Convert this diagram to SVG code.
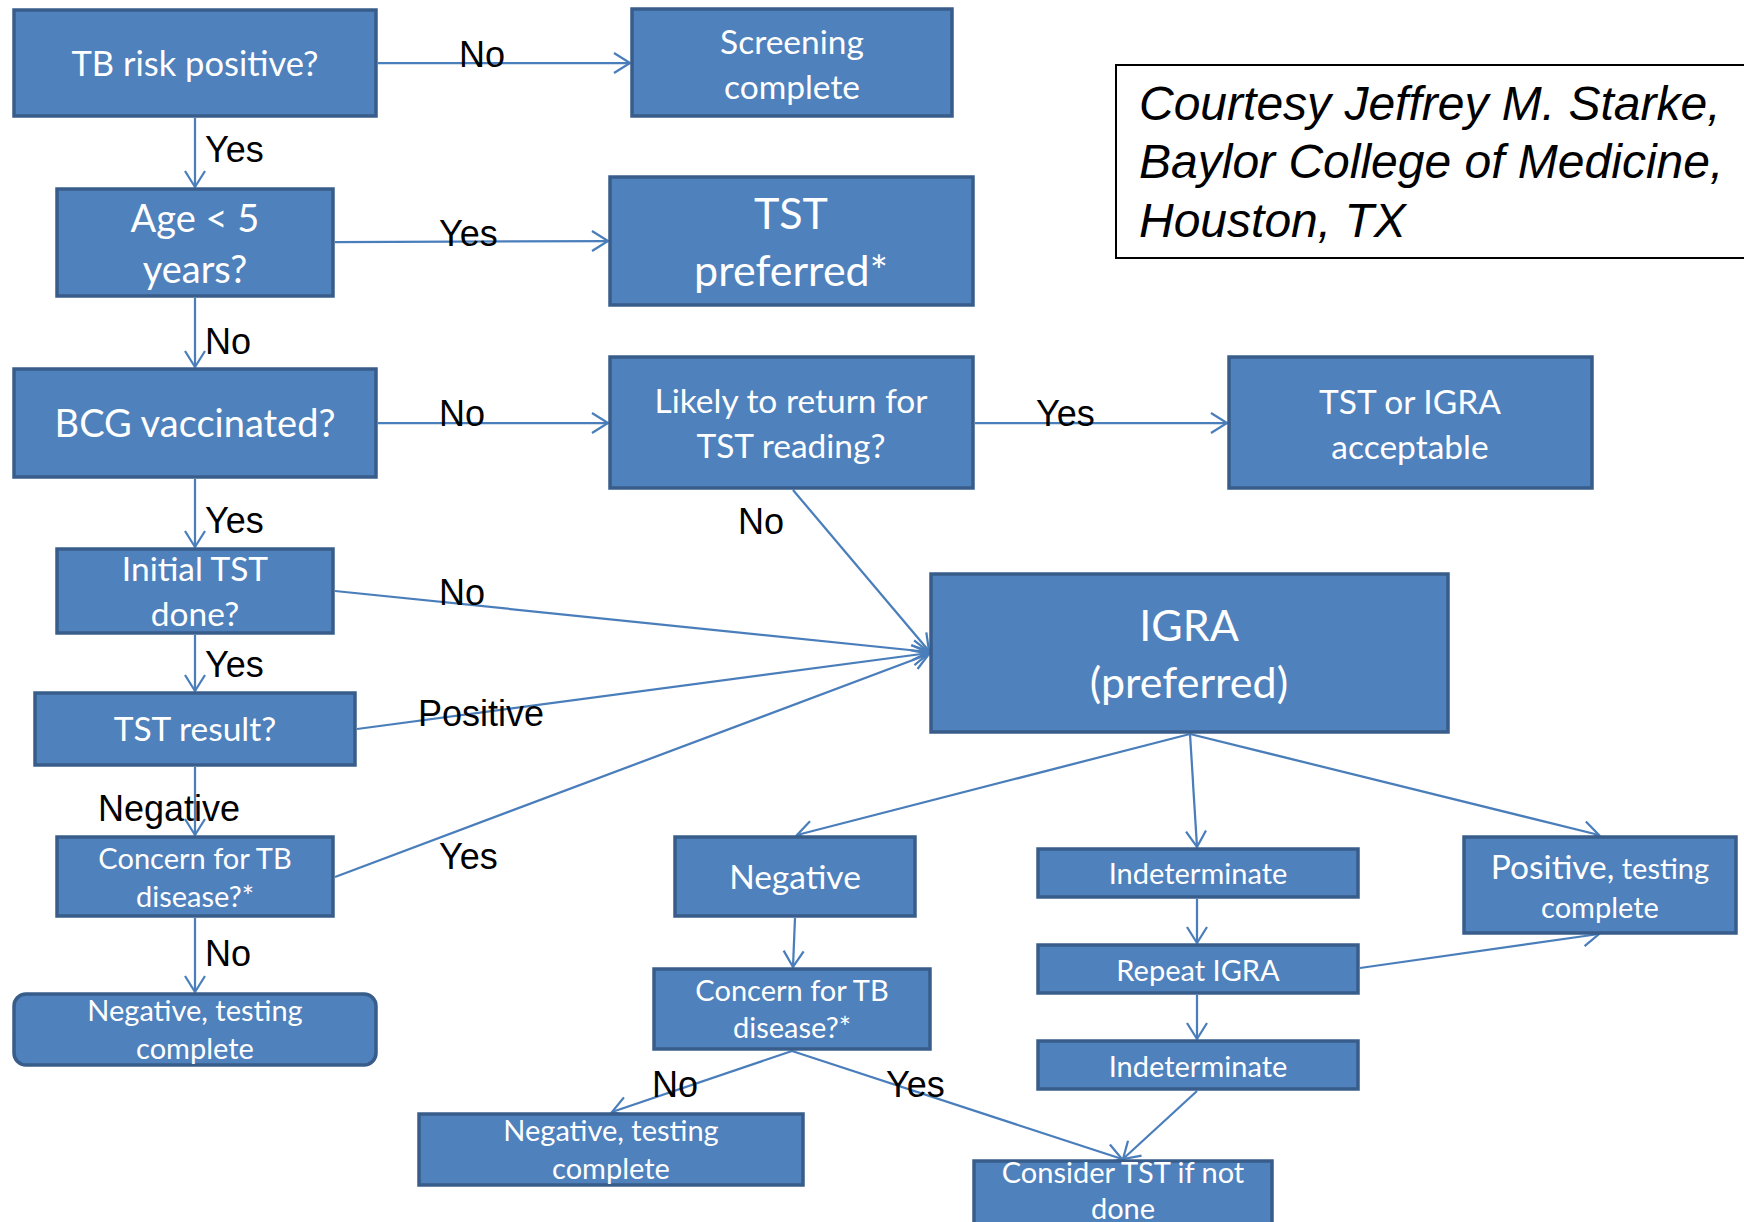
<svg xmlns="http://www.w3.org/2000/svg" width="1744" height="1222" viewBox="0 0 1744 1222">
<style>
.box{fill:#4F81BD;stroke:#385D8A;stroke-width:3.5}
.t{fill:#FFFFFF;font-family:Lato,"Open Sans",sans-serif;text-anchor:middle}
.lbl{fill:#000000;font-family:"Liberation Sans",Arial,sans-serif;font-size:36px}
.c{fill:none;stroke:#4A7EBB;stroke-width:2.25;marker-end:url(#arr)}
.credit{fill:#000000;font-family:"Liberation Sans",Arial,sans-serif;font-style:italic;font-size:48px}
</style>
<defs>
<marker id="arr" markerUnits="userSpaceOnUse" markerWidth="22" markerHeight="26" viewBox="0 -13 22 26" refX="18" refY="0" orient="auto">
<path d="M2,-10 L18,0 L2,10" fill="none" stroke="#4A7EBB" stroke-width="2.25"/>
</marker>
</defs>
<rect width="1744" height="1222" fill="#FFFFFF"/>

<g id="connectors">
<line class="c" x1="378" y1="63" x2="630" y2="63"/>
<line class="c" x1="195" y1="118" x2="195" y2="187"/>
<line class="c" x1="335" y1="242" x2="608" y2="241"/>
<line class="c" x1="195" y1="298" x2="195" y2="367"/>
<line class="c" x1="378" y1="423" x2="608" y2="423"/>
<line class="c" x1="195" y1="479" x2="195" y2="547"/>
<line class="c" x1="975" y1="423" x2="1227" y2="423"/>
<line class="c" x1="793" y1="490" x2="929" y2="651"/>
<line class="c" x1="335" y1="591" x2="929" y2="652"/>
<line class="c" x1="195" y1="635" x2="195" y2="691"/>
<line class="c" x1="357" y1="729" x2="929" y2="653"/>
<line class="c" x1="195" y1="767" x2="195" y2="835"/>
<line class="c" x1="335" y1="877" x2="929" y2="654"/>
<line class="c" x1="195" y1="918" x2="195" y2="992"/>
<line class="c" x1="1190" y1="734" x2="797" y2="835"/>
<line class="c" x1="1190" y1="734" x2="1197" y2="847"/>
<line class="c" x1="1190" y1="734" x2="1599" y2="835"/>
<line class="c" x1="795" y1="918" x2="793" y2="967"/>
<line class="c" x1="792" y1="1051" x2="612" y2="1112"/>
<line class="c" x1="792" y1="1051" x2="1122" y2="1159"/>
<line class="c" x1="1197" y1="899" x2="1197" y2="943"/>
<line class="c" x1="1197" y1="995" x2="1197" y2="1039"/>
<line class="c" x1="1197" y1="1091" x2="1123" y2="1159"/>
<line class="c" x1="1360" y1="968" x2="1599" y2="934"/>
</g>

<g id="edge-labels">
<text class="lbl" x="459" y="67">No</text>
<text class="lbl" x="205" y="162">Yes</text>
<text class="lbl" x="439" y="246">Yes</text>
<text class="lbl" x="205" y="354">No</text>
<text class="lbl" x="439" y="426">No</text>
<text class="lbl" x="205" y="533">Yes</text>
<text class="lbl" x="1036" y="426">Yes</text>
<text class="lbl" x="738" y="534">No</text>
<text class="lbl" x="439" y="605">No</text>
<text class="lbl" x="205" y="677">Yes</text>
<text class="lbl" x="418" y="726">Positive</text>
<text class="lbl" x="98" y="821">Negative</text>
<text class="lbl" x="439" y="869">Yes</text>
<text class="lbl" x="205" y="966">No</text>
<text class="lbl" x="652" y="1097">No</text>
<text class="lbl" x="886" y="1097">Yes</text>
</g>

<g id="n-tbrisk"><rect class="box" x="14" y="10" width="362" height="106"/><text class="t" x="195" y="76" font-size="34.5">TB risk positive?</text></g>
<g id="n-screening"><rect class="box" x="632" y="9" width="320" height="107"/><text class="t" x="792" y="54" font-size="33.5">Screening</text><text class="t" x="792" y="99" font-size="33.5">complete</text></g>
<g id="n-age"><rect class="box" x="57" y="189" width="276" height="107"/><text class="t" x="195" y="232" font-size="38">Age &lt; 5</text><text class="t" x="195" y="283" font-size="38">years?</text></g>
<g id="n-tstpref"><rect class="box" x="610" y="177" width="363" height="128"/><text class="t" x="791" y="229" font-size="43">TST</text><text class="t" x="791" y="286" font-size="43">preferred*</text></g>
<g id="n-bcg"><rect class="box" x="14" y="369" width="362" height="108"/><text class="t" x="195" y="437" font-size="38">BCG vaccinated?</text></g>
<g id="n-likely"><rect class="box" x="610" y="357" width="363" height="131"/><text class="t" x="791" y="413" font-size="33.5">Likely to return for</text><text class="t" x="791" y="458" font-size="33.5">TST reading?</text></g>
<g id="n-tstorigra"><rect class="box" x="1229" y="357" width="363" height="131"/><text class="t" x="1410" y="414" font-size="33.5">TST or IGRA</text><text class="t" x="1410" y="459" font-size="33.5">acceptable</text></g>
<g id="n-credit"><rect x="1116" y="65" width="660" height="193" fill="#FFFFFF" stroke="#000000" stroke-width="2"/><text class="credit" x="1139" y="120">Courtesy Jeffrey M. Starke,</text><text class="credit" x="1139" y="178">Baylor College of Medicine,</text><text class="credit" x="1139" y="237">Houston, TX</text></g>
<g id="n-initial"><rect class="box" x="57" y="549" width="276" height="84"/><text class="t" x="195" y="581" font-size="33.5">Initial TST</text><text class="t" x="195" y="626" font-size="33.5">done?</text></g>
<g id="n-igra"><rect class="box" x="931" y="574" width="517" height="158"/><text class="t" x="1189" y="641" font-size="43">IGRA</text><text class="t" x="1189" y="698" font-size="43">(preferred)</text></g>
<g id="n-tstresult"><rect class="box" x="35" y="693" width="320" height="72"/><text class="t" x="195" y="741" font-size="33.5">TST result?</text></g>
<g id="n-concern1"><rect class="box" x="57" y="837" width="276" height="79"/><text class="t" x="195" y="869" font-size="29">Concern for TB</text><text class="t" x="195" y="907" font-size="29">disease?*</text></g>
<g id="n-neg1"><rect class="box" x="14" y="994" width="362" height="71" rx="12"/><text class="t" x="195" y="1021" font-size="29">Negative, testing</text><text class="t" x="195" y="1059" font-size="29">complete</text></g>
<g id="n-negative"><rect class="box" x="675" y="837" width="240" height="79"/><text class="t" x="795" y="889" font-size="33.5">Negative</text></g>
<g id="n-concern2"><rect class="box" x="654" y="969" width="276" height="80"/><text class="t" x="792" y="1001" font-size="29">Concern for TB</text><text class="t" x="792" y="1038" font-size="29">disease?*</text></g>
<g id="n-neg2"><rect class="box" x="419" y="1114" width="384" height="71"/><text class="t" x="611" y="1141" font-size="29">Negative, testing</text><text class="t" x="611" y="1179" font-size="29">complete</text></g>
<g id="n-indet1"><rect class="box" x="1038" y="849" width="320" height="48"/><text class="t" x="1198" y="884" font-size="29">Indeterminate</text></g>
<g id="n-repeat"><rect class="box" x="1038" y="945" width="320" height="48"/><text class="t" x="1198" y="981" font-size="29">Repeat IGRA</text></g>
<g id="n-indet2"><rect class="box" x="1038" y="1041" width="320" height="48"/><text class="t" x="1198" y="1077" font-size="29">Indeterminate</text></g>
<g id="n-positive"><rect class="box" x="1464" y="837" width="272" height="96"/><text class="t" x="1600" y="879"><tspan font-size="33.5">Positive,</tspan><tspan font-size="29"> testing</tspan></text><text class="t" x="1600" y="918" font-size="29">complete</text></g>
<g id="n-consider"><rect class="box" x="974" y="1161" width="298" height="80"/><text class="t" x="1123" y="1183" font-size="29">Consider TST if not</text><text class="t" x="1123" y="1219" font-size="29">done</text></g>
</svg>
